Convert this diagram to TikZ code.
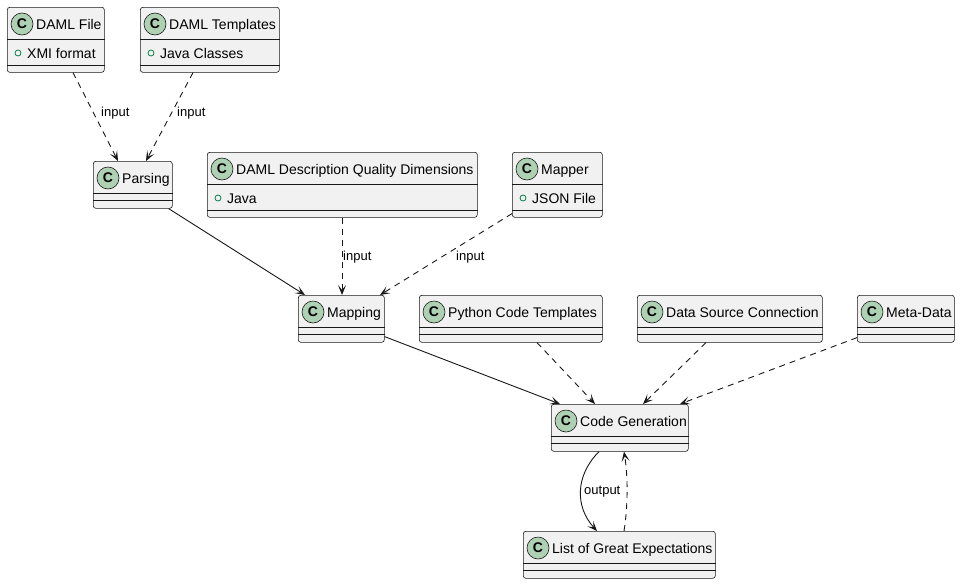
\documentclass[tikz,border=0pt]{standalone}
\usepackage{fontspec}
\setmainfont{Liberation Sans}
\usetikzlibrary{arrows.meta}
\definecolor{boxfill}{HTML}{F1F1F1}
\definecolor{boxline}{HTML}{181818}
\definecolor{circfill}{HTML}{ADD1B2}
\definecolor{visgreen}{HTML}{038048}
\tikzset{
  classbox/.style={anchor=north west, draw=boxline, fill=boxfill, rounded corners=2.5pt, inner sep=0pt, line width=0.6pt},
  sepline/.style={draw=boxline, line width=0.6pt},
  classicon/.style={circle, minimum size=22pt, inner sep=0pt, fill=circfill, draw=boxline, line width=0.6pt, font=\bfseries\fontsize{14}{14}\selectfont},
  classtitle/.style={anchor=base west, inner sep=0pt, font=\fontsize{14}{16}\selectfont},
  attrtext/.style={anchor=base west, inner sep=0pt, font=\fontsize{14}{16}\selectfont},
  visicon/.style={circle, minimum size=6pt, inner sep=0pt, draw=visgreen, line width=0.8pt},
  assoc/.style={draw=boxline, line width=0.9pt, -{Stealth[length=10pt,width=8pt,inset=5pt]}},
  dep/.style={assoc, dash pattern=on 6pt off 5pt},
  elabel/.style={anchor=west, inner sep=0pt, font=\fontsize{13}{15}\selectfont}
}
\newcommand\umlclass[7]{%
  \node[classbox, minimum width=#4pt, minimum height=#5pt] (#1) at (#2,#3) {};
  \draw[sepline] ([yshift=-32pt]#1.north west) -- ([yshift=-32pt]#1.north east);
  \node[classicon] (#1-icon) at ([xshift=15pt,yshift=-17pt]#1.north west) {C};
  \node[classtitle] (#1-title) at ([xshift=29pt,yshift=-22pt]#1.north west) {#6};
  \if\relax\detokenize{#7}\relax
    \draw[sepline] ([yshift=-39pt]#1.north west) -- ([yshift=-39pt]#1.north east);
  \else
    \draw[sepline] ([yshift=-58pt]#1.north west) -- ([yshift=-58pt]#1.north east);
    \node[visicon] (#1-vis) at ([xshift=11pt,yshift=-46pt]#1.north west) {};
    \node[attrtext] (#1-attr) at ([xshift=20pt,yshift=-51pt]#1.north west) {#7};
  \fi}
\begin{document}
\begin{tikzpicture}[x=1pt,y=-1pt]
\fill[white] (0,0) rectangle (960,584);
\useasboundingbox (0,0) rectangle (960,584);

\umlclass{dfile}{7}{7}{97}{65}{DAML File}{XMI format}
\umlclass{dtempl}{140}{7}{139}{65}{DAML Templates}{Java Classes}
\umlclass{parsing}{93}{161}{79}{47}{Parsing}{}
\umlclass{dqd}{207}{152}{270}{65}{DAML Description Quality Dimensions}{Java}
\umlclass{mapper}{512}{152}{90}{65}{Mapper}{JSON File}
\umlclass{mapping}{298}{295}{86}{47}{Mapping}{}
\umlclass{python}{419}{295}{183}{47}{Python Code Templates}{}
\umlclass{dsc}{637}{295}{185}{47}{Data Source Connection}{}
\umlclass{meta}{857}{295}{97}{47}{Meta-Data}{}
\umlclass{codegen}{551}{404}{137}{47}{Code Generation}{}
\umlclass{list}{523}{531}{192}{47}{List of Great Expectations}{}

% connectors
\draw[dep] ([xshift=66pt]dfile.south west) -- ([xshift=25pt]parsing.north west);
\draw[dep] ([xshift=53pt]dtempl.south west) -- ([xshift=53pt]parsing.north west);
\draw[assoc] ([xshift=-4pt]parsing.south east) -- ([xshift=7pt]mapping.north west);
\draw[dep] ([xshift=135pt]dqd.south west) -- ([xshift=44pt]mapping.north west);
\draw[dep] ([yshift=4pt]mapper.south west) -- ([xshift=82pt]mapping.north west);
\draw[assoc] ([yshift=6pt]mapping.south east) -- ([xshift=9pt]codegen.north west);
\draw[dep] ([xshift=118pt]python.south west) -- ([xshift=44pt]codegen.north west);
\draw[dep] ([xshift=69pt]dsc.south west) -- ([xshift=92pt]codegen.north west);
\draw[dep] ([yshift=5pt]meta.south west) -- ([xshift=129pt]codegen.north west);
\draw[assoc] ([xshift=48pt]codegen.south west) .. controls +(-24,24) and +(-22,-24) .. ([xshift=74pt]list.north west);
\draw[dep] ([xshift=101pt]list.north west) .. controls +(4,-25) and +(4,25) .. ([xshift=73pt]codegen.south west);

% labels
\node[elabel] (l1) at (101,113) {input};
\node[elabel] (l2) at (177,113) {input};
\node[elabel] (l3) at (343,257) {input};
\node[elabel] (l4) at (456,257) {input};
\node[elabel] (l5) at (584,492) {output};
\end{tikzpicture}
\end{document}
